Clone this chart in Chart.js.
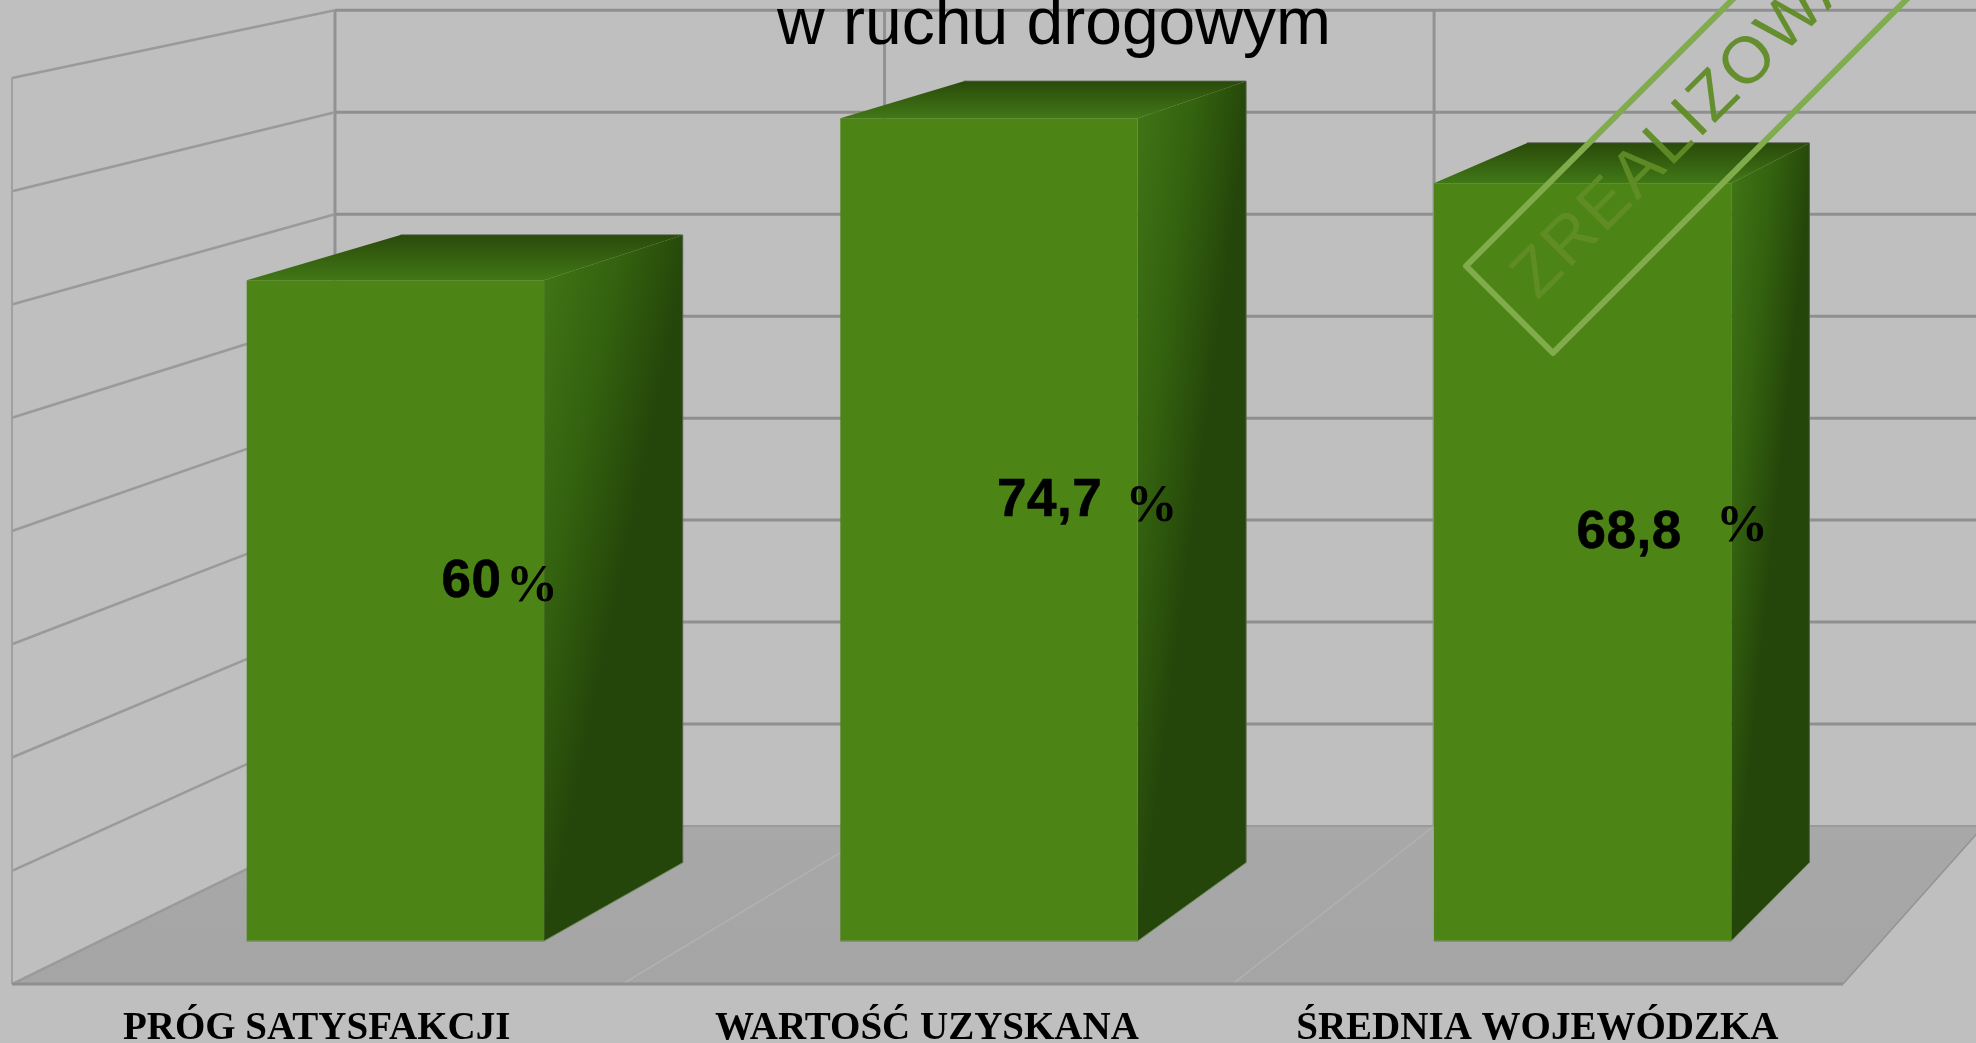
<!DOCTYPE html>
<html lang="pl">
<head>
<meta charset="utf-8">
<title>w ruchu drogowym</title>
<script src="https://cdn.jsdelivr.net/npm/chart.js@4/dist/chart.umd.min.js"></script>
<style>
html,body{margin:0;padding:0;background:#bfbfbf;overflow:hidden}
canvas{display:block}
</style>
</head>
<body>
<canvas id="c" width="1976" height="1043"></canvas>
<script>
const categories = ['PRÓG SATYSFAKCJI', 'WARTOŚĆ UZYSKANA', 'ŚREDNIA WOJEWÓDZKA'];
const values = [60, 74.7, 68.8];
const valueUnit = '%';
const axisMin = 0, axisMax = 80, axisStep = 10;
const titleText = 'w ruchu drogowym';
const stampText = 'ZREALIZOWANO';

// Planes of the 3D view, as scale + shift of the bar-front plane
const FRONT = {k: 1.0284, kx: 1.0282, dx: -89.4, dy: 16.3};
const BACK  = {k: 0.9258, kx: 0.9258, dx: 243.7, dy: -45.2};
const DEPTH = {k: 0.95,   kx: 0.949,  dx: 166.4, dy: -31.25};
const on = (p, x, y) => [x * p.kx + p.dx, y * p.k + p.dy];

// Hand placement of the value text, relative to bar centre / bar middle
const numberLeft = [47, 9, -5];
const percentLeft = [114.6, 140.6, 137.4];
const percentRise = [9.6, 9, 21];
const numberRise = 14;

function poly(ctx, pts, fill) {
  ctx.beginPath();
  pts.forEach((p, i) => i ? ctx.lineTo(p[0], p[1]) : ctx.moveTo(p[0], p[1]));
  ctx.closePath();
  ctx.fillStyle = fill;
  ctx.fill();
}
function seg(ctx, a, b, color, w) {
  ctx.beginPath();
  ctx.moveTo(a[0], a[1]);
  ctx.lineTo(b[0], b[1]);
  ctx.strokeStyle = color;
  ctx.lineWidth = w;
  ctx.stroke();
}

const scene = {
  id: 'scene',
  beforeDatasetsDraw(chart) {
    const {ctx, scales: {x, y}, width, height} = chart;
    const l = x.left, r = x.right, b = y.getPixelForValue(axisMin), t = y.getPixelForValue(axisMax);
    ctx.save();
    ctx.fillStyle = '#bfbfbf';
    ctx.fillRect(0, 0, width, height);

    // floor
    const fg = ctx.createLinearGradient(0, on(BACK, 0, b)[1], 0, on(FRONT, 0, b)[1]);
    fg.addColorStop(0, '#a8a8a8');
    fg.addColorStop(1, '#a5a5a5');
    poly(ctx, [on(FRONT, l, b), on(FRONT, r, b), on(BACK, r, b), on(BACK, l, b)], fg);

    // category dividers
    const n = categories.length;
    for (let i = 0; i <= n; i++) {
      const cx = l + i * (r - l) / n;
      if (i > 0 && i < n) seg(ctx, on(FRONT, cx, b), on(BACK, cx, b), '#b2b2b2', 1.5);
      seg(ctx, on(BACK, cx, t), on(BACK, cx, b), '#929292', 3);
    }
    // value gridlines
    y.ticks.forEach(tk => {
      const py = y.getPixelForValue(tk.value);
      const isBase = tk.value === axisMin;
      seg(ctx, on(BACK, l, py), on(BACK, r, py), isBase ? '#9a9a9a' : '#8f8f8f', isBase ? 2 : 3);
      seg(ctx, on(FRONT, l, py), on(BACK, l, py), '#9a9a9a', 2.5);
    });
    // outer edges
    seg(ctx, on(FRONT, l, t), on(FRONT, l, b), '#a0a0a0', 2);
    seg(ctx, on(FRONT, l, b), on(FRONT, r, b), '#8f8f8f', 3);
    seg(ctx, on(FRONT, r, b), on(BACK, r, b), '#939393', 1.5);

    // side and top faces of each bar
    chart.getDatasetMeta(0).data.forEach(bar => {
      const xl = bar.x - bar.width / 2, xr = bar.x + bar.width / 2;
      const yt = bar.y, yb = bar.base;
      const ftl = [xl, yt], ftr = [xr, yt], fbr = [xr, yb];
      const btl = on(DEPTH, xl, yt), btr = on(DEPTH, xr, yt), bbr = on(DEPTH, xr, yb);
      const dep = btr[0] - xr;

      // shading falls off towards the back edge and towards the floor
      const H = yb - yt;
      const norm = Math.hypot(H, dep);
      const along = dep * H / norm;
      const sg = ctx.createLinearGradient(xr, yt, xr + along * H / norm, yt + along * dep / norm);
      sg.addColorStop(0, '#3f7416');
      sg.addColorStop(0.5, '#34620f');
      sg.addColorStop(0.8, '#2b520c');
      sg.addColorStop(1, '#25460a');
      poly(ctx, [ftr, btr, bbr, fbr], sg);

      const tg = ctx.createLinearGradient(0, btl[1], 0, yt);
      tg.addColorStop(0, '#2a4a0a');
      tg.addColorStop(1, '#417816');
      poly(ctx, [ftl, ftr, btr, btl], tg);

      seg(ctx, btl, btr, '#3f4f30', 1);
      seg(ctx, btr, bbr, '#55604a', 1);
      seg(ctx, bbr, fbr, '#6f8a5a', 1);
    });
    ctx.restore();
  },
  afterDatasetsDraw(chart) {
    const {ctx, scales: {x}} = chart;
    ctx.save();
    // thin light foot of each front face
    const meta = chart.getDatasetMeta(0).data;
    meta.forEach(bar => {
      seg(ctx, [bar.x - bar.width / 2, bar.base], [bar.x + bar.width / 2, bar.base], '#6f9150', 1.5);
    });

    // value text
    ctx.textBaseline = 'alphabetic';
    ctx.textAlign = 'left';
    ctx.fillStyle = '#000';
    ctx.strokeStyle = '#000';
    ctx.lineWidth = 0.6;
    ctx.lineJoin = 'round';
    meta.forEach((bar, i) => {
      const mid = (bar.y + bar.base) / 2;
      const label = String(values[i]).replace('.', ',');
      ctx.letterSpacing = '0.5px';
      ctx.font = 'bold 53px "Liberation Sans", Arial, sans-serif';
      ctx.fillText(label, bar.x + numberLeft[i] - 1, mid - numberRise);
      ctx.strokeText(label, bar.x + numberLeft[i] - 1, mid - numberRise);
      ctx.letterSpacing = '0px';
      ctx.font = 'bold 52px "Liberation Serif", "Times New Roman", serif';
      ctx.fillText(valueUnit, bar.x + percentLeft[i] - 4, mid - percentRise[i]);
    });

    // category text, on the front edge of the floor
    ctx.textAlign = 'center';
    ctx.font = 'bold 39px "Liberation Serif", "Times New Roman", serif';
    categories.forEach((c, i) => {
      const p = on(FRONT, x.getPixelForValue(i), 0);
      ctx.fillText(c, p[0] - 0.5, 1039);
    });

    // title, cut by the top of the picture as in the source
    ctx.font = '66px "Liberation Sans", Arial, sans-serif';
    ctx.fillText(titleText, 1054, 44);

    // stamp
    ctx.translate(1466, 266);
    ctx.rotate(-Math.PI / 4);
    ctx.lineWidth = 6;
    ctx.lineJoin = 'round';
    ctx.strokeStyle = '#80ac4c';
    ctx.strokeRect(0, 0, 900, 123);
    ctx.textAlign = 'left';
    ctx.fillStyle = 'rgba(96,140,38,0.95)';
    ctx.font = '66px "Liberation Sans", Arial, sans-serif';
    ctx.letterSpacing = '3px';
    ctx.fillText(stampText, 26, 75);
    ctx.restore();
  }
};

new Chart(document.getElementById('c'), {
  type: 'bar',
  data: {
    labels: categories,
    datasets: [{
      data: values,
      backgroundColor: '#4c8516',
      borderWidth: 0,
      barPercentage: 0.501,
      categoryPercentage: 1
    }]
  },
  options: {
    responsive: false,
    animation: false,
    devicePixelRatio: 1,
    layout: {padding: {left: 98.6, right: 96.6, top: 60, bottom: 102}},
    plugins: {legend: {display: false}, tooltip: {enabled: false}, title: {display: false}},
    scales: {
      x: {display: false},
      y: {display: false, min: axisMin, max: axisMax, ticks: {stepSize: axisStep}}
    }
  },
  plugins: [scene]
});
</script>
</body>
</html>
